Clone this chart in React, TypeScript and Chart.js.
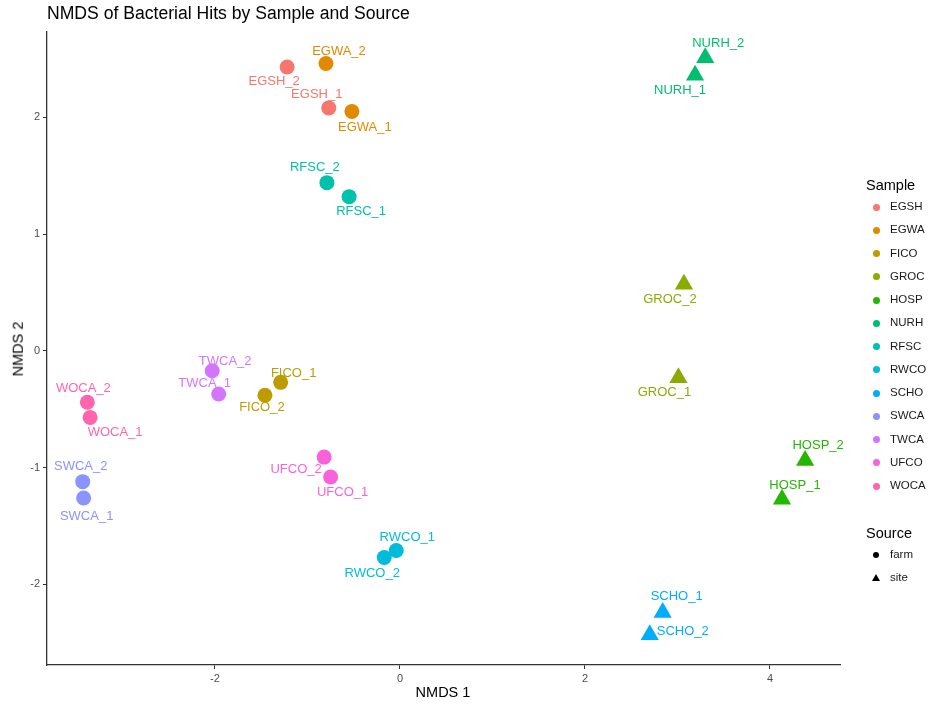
import React, { useEffect, useRef } from "react";
import { Chart, registerables } from "chart.js";

Chart.register(...registerables);

// ---- Data ----
const samples = ["EGSH", "EGWA", "FICO", "GROC", "HOSP", "NURH", "RFSC", "RWCO", "SCHO", "SWCA", "TWCA", "UFCO", "WOCA"];
const sampleSource = ["farm", "farm", "farm", "site", "site", "site", "farm", "farm", "site", "farm", "farm", "farm", "farm"];
// replicate _1
const nmds1Rep1 = [-0.77, -0.52, -1.29, 3.01, 4.13, 3.19, -0.55, -0.04, 2.84, -3.42, -1.96, -0.75, -3.35];
const nmds2Rep1 = [2.08, 2.05, -0.27, -0.23, -1.27, 2.36, 1.32, -1.71, -2.24, -1.26, -0.37, -1.08, -0.57];
// replicate _2
const nmds1Rep2 = [-1.22, -0.80, -1.46, 3.07, 4.38, 3.30, -0.79, -0.17, 2.70, -3.43, -2.03, -0.82, -3.38];
const nmds2Rep2 = [2.43, 2.46, -0.38, 0.57, -0.94, 2.51, 1.44, -1.77, -2.43, -1.12, -0.17, -0.91, -0.44];
const xTicks = [-2, 0, 2, 4];
const yTicks = [-2, -1, 0, 1, 2];
const sourceLevels = ["farm", "site"];

// ---- Styles ----
const colors = ["#F8766D", "#E18A00", "#BE9C00", "#8CAB00", "#24B700", "#00BE70", "#00C1AB", "#00BBDA", "#00ACFC", "#8B93FF", "#D575FE", "#F962DD", "#FF65AC"];
// label offsets in px [dx1, dy1, dx2, dy2]
const labelOffsets = [
  [-12, -13, -13, 14],
  [13, 16, 13, -12],
  [13, -9, -3, 12],
  [-14, 15, -14, 15],
  [13, -14, 13, -15],
  [-15, 15, 13, -14],
  [12, 15, -12, -15],
  [11, -13, -12, 16],
  [14, -16, 33, -3],
  [3, 18, -2, -15],
  [-14, -11, 13, -9],
  [12, 15, -28, 12],
  [25, 15, -4, -14],
];

const FONT = "'Liberation Sans', Arial, Helvetica, sans-serif";

const labelPlugin = {
  id: "pointLabels",
  afterDatasetsDraw(chart: any) {
    const ctx = chart.ctx;
    ctx.save();
    ctx.font = `13px ${FONT}`;
    ctx.textAlign = "center";
    ctx.textBaseline = "middle";
    chart.data.datasets.forEach((ds: any, i: number) => {
      const meta = chart.getDatasetMeta(i);
      meta.data.forEach((el: any, j: number) => {
        const off = labelOffsets[i];
        const dx = j === 0 ? off[0] : off[2];
        const dy = j === 0 ? off[1] : off[3];
        ctx.fillStyle = colors[i];
        ctx.fillText(`${samples[i]}_${j + 1}`, el.x + dx, el.y + dy);
      });
    });
    ctx.restore();
  },
};

export default function App() {
  const ref = useRef<HTMLCanvasElement>(null);
  useEffect(() => {
    if (!ref.current) return;
    Chart.defaults.font.family = FONT;
    const datasets = samples.map((s, i) => ({
      label: s,
      data: [
        { x: nmds1Rep1[i], y: nmds2Rep1[i] },
        { x: nmds1Rep2[i], y: nmds2Rep2[i] },
      ],
      backgroundColor: colors[i],
      borderColor: colors[i],
      borderWidth: 0,
      pointStyle: sampleSource[i] === "farm" ? "circle" : "triangle",
      pointRadius: sampleSource[i] === "farm" ? 7.5 : 10.5,
    }));
    const chart = new Chart(ref.current, {
      type: "scatter",
      data: { datasets },
      options: {
        animation: false,
        responsive: false,
        events: [],
        layout: { padding: { top: 32, right: 92, left: 0, bottom: 0 } },
        plugins: { legend: { display: false }, title: { display: false }, tooltip: { enabled: false } },
        scales: {
          x: {
            type: "linear",
            min: -3.816,
            max: 4.757,
            afterBuildTicks: (scale: any) => {
              scale.ticks = xTicks.map((v) => ({ value: v }));
            },
            afterFit: (scale: any) => {
              scale.height = 42;
            },
            grid: { display: true, drawOnChartArea: false, drawTicks: true, tickLength: 4, color: "#333333", lineWidth: 1 },
            border: { display: true, color: "#333333", width: 1.3 },
            ticks: { font: { size: 11 }, color: "#4D4D4D", padding: 3, maxRotation: 0 },
          },
          y: {
            type: "linear",
            min: -2.69,
            max: 2.73,
            afterBuildTicks: (scale: any) => {
              scale.ticks = yTicks.map((v) => ({ value: v }));
            },
            afterFit: (scale: any) => {
              scale.width = 47;
            },
            grid: { display: true, drawOnChartArea: false, drawTicks: true, tickLength: 4, color: "#333333", lineWidth: 1 },
            border: { display: true, color: "#333333", width: 1.3 },
            ticks: { font: { size: 11 }, color: "#4D4D4D", padding: 3 },
          },
        },
      },
      plugins: [labelPlugin],
    } as any);
    return () => chart.destroy();
  }, []);

  const txt: React.CSSProperties = { position: "absolute", fontFamily: FONT, whiteSpace: "nowrap", lineHeight: 1 };

  return (
    <div style={{ position: "fixed", left: 0, top: 0, width: 932, height: 707, background: "#fff" }}>
      <canvas ref={ref} width={932} height={707} style={{ position: "absolute", left: 0, top: 0 }} />
      <div style={{ ...txt, left: 47, top: 14, transform: "translateY(-50%)", fontSize: 17.6, color: "#000" }}>
        NMDS of Bacterial Hits by Sample and Source
      </div>
      <div style={{ ...txt, left: 443, top: 692, transform: "translate(-50%,-50%)", fontSize: 14.5, color: "#000" }}>NMDS 1</div>
      <div style={{ ...txt, left: 18, top: 349, transform: "translate(-50%,-50%) rotate(-90deg)", fontSize: 14.5, color: "#000" }}>NMDS 2</div>
      <div style={{ ...txt, left: 866, top: 185, transform: "translateY(-50%)", fontSize: 14.5, color: "#000" }}>Sample</div>
      {samples.map((s, i) => (
        <React.Fragment key={s}>
          <div style={{ position: "absolute", left: 876 - 3.5, top: 207 + i * 23.25 - 3.5, width: 7, height: 7, borderRadius: "50%", background: colors[i] }} />
          <div style={{ ...txt, left: 890, top: 207 + i * 23.25, transform: "translateY(-50%)", fontSize: 11.5, color: "#1A1A1A" }}>{s}</div>
        </React.Fragment>
      ))}
      <div style={{ ...txt, left: 866, top: 533, transform: "translateY(-50%)", fontSize: 14.5, color: "#000" }}>Source</div>
      {sourceLevels.map((s, i) => (
        <React.Fragment key={s}>
          {s === "farm" ? (
            <div style={{ position: "absolute", left: 876 - 3, top: 555 - 3, width: 6, height: 6, borderRadius: "50%", background: "#000" }} />
          ) : (
            <div style={{ position: "absolute", left: 876 - 4, top: 578 - 4, width: 0, height: 0, borderLeft: "4px solid transparent", borderRight: "4px solid transparent", borderBottom: "7px solid #000" }} />
          )}
          <div style={{ ...txt, left: 890, top: 555 + i * 23, transform: "translateY(-50%)", fontSize: 11.5, color: "#1A1A1A" }}>{s}</div>
        </React.Fragment>
      ))}
    </div>
  );
}
